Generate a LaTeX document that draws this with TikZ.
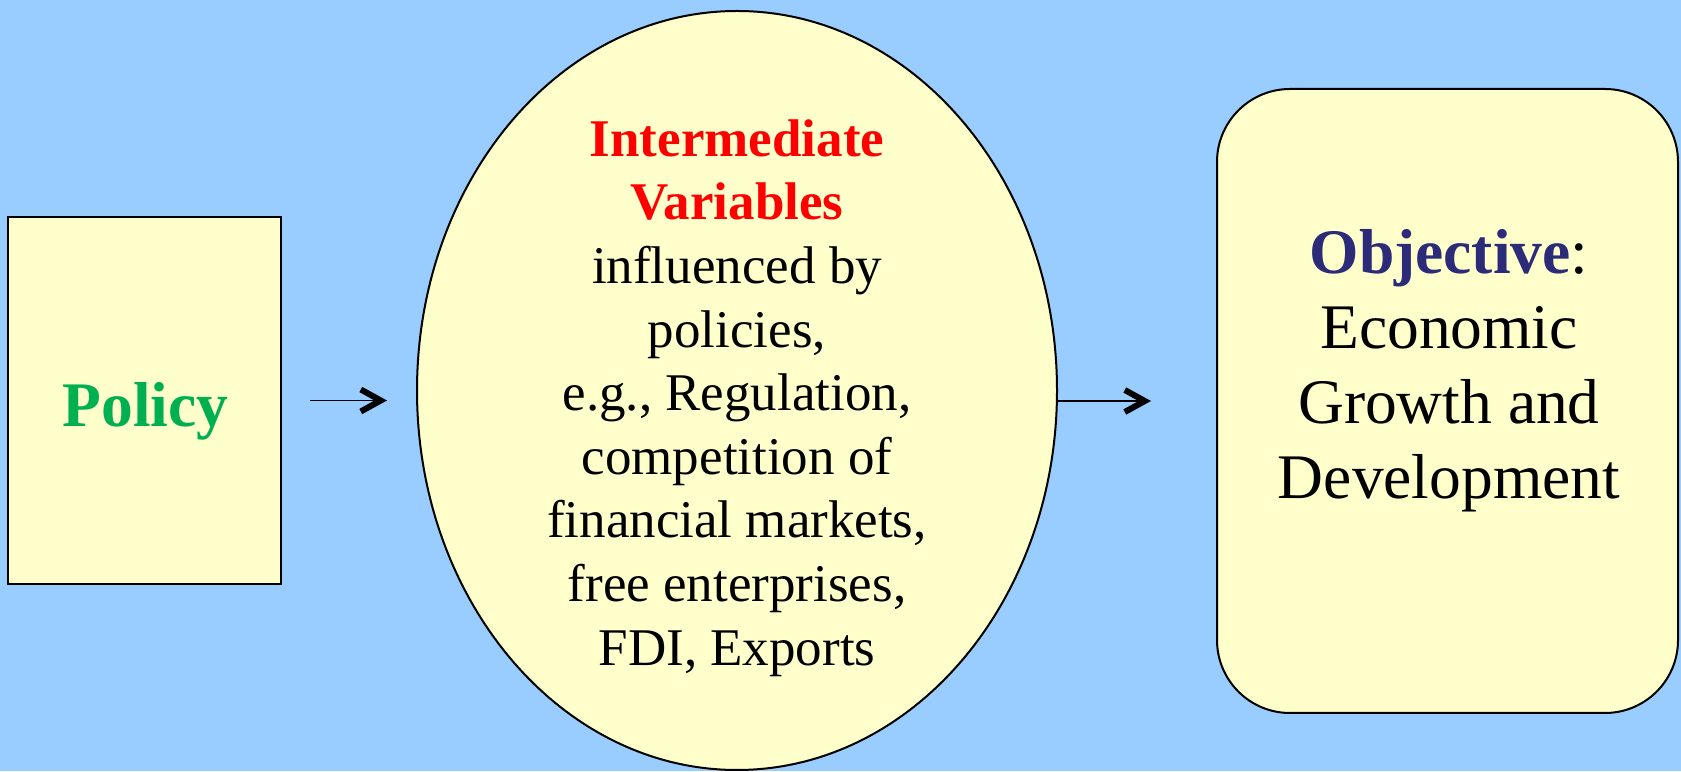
\documentclass[tikz,border=0pt]{standalone}
\usepackage{fontspec}
\setmainfont{Liberation Serif}
\usepackage{xcolor}
\definecolor{skyback}{HTML}{99CCFF}
\definecolor{paleyellow}{HTML}{FFFFCC}
\definecolor{policygreen}{HTML}{00B050}
\definecolor{midred}{HTML}{FF0000}
\definecolor{goalnavy}{HTML}{2B2B7A}
\usetikzlibrary{shapes.geometric, arrows.meta, positioning, calc}

\begin{document}
\begin{tikzpicture}[
  x=1pt, y=1pt,
  shapebox/.style={draw=black, line width=2pt, fill=paleyellow, inner sep=0pt},
  bigtext/.style={font=\fontsize{63.5}{75}\selectfont, align=center, inner sep=0pt},
  midtext/.style={font=\fontsize{53}{63.6}\selectfont, align=center, inner sep=0pt},
  arrow/.style={-{Straight Barb[length=20pt, width=22pt, line width=6pt, line cap=butt]}, line width=1.5pt, color=black}
]
  % background and page size
  \fill[skyback] (0,0) rectangle (1681,771);
  \useasboundingbox (0,0) rectangle (1681,771);

  \node[shapebox, rectangle, minimum width=273pt, minimum height=367pt]
    (policy) at (144.5,370.5) {};
  \node[bigtext, anchor=base] (policylabel) at (145.5,344)
    {\textbf{\color{policygreen}Policy}};

  \node[shapebox, ellipse, minimum width=640pt, minimum height=759pt]
    (mid) at (737,380.5) {};
  \node[midtext] (midlabel) at (737,373)
    {\textbf{\color{midred}Intermediate}\\\textbf{\color{midred}Variables}\\
     influenced by\\policies,\\e.g., Regulation,\\competition of\\
     financial markets,\\free enterprises,\\FDI, Exports};

  \node[shapebox, rectangle, rounded corners=73pt, minimum width=461pt, minimum height=624pt]
    (goal) at (1447.5,370) {};
  \node[bigtext] (goallabel) at (1449,400)
    {\textbf{\color{goalnavy}Objective}:\\Economic\\Growth and\\Development};

  \draw[arrow] ([xshift=28pt]policy.east) -- ([xshift=-29pt]mid.west |- policy.east);
  \draw[arrow] (mid.east |- goal.west) -- ([xshift=-65pt]goal.west);
\end{tikzpicture}
\end{document}
